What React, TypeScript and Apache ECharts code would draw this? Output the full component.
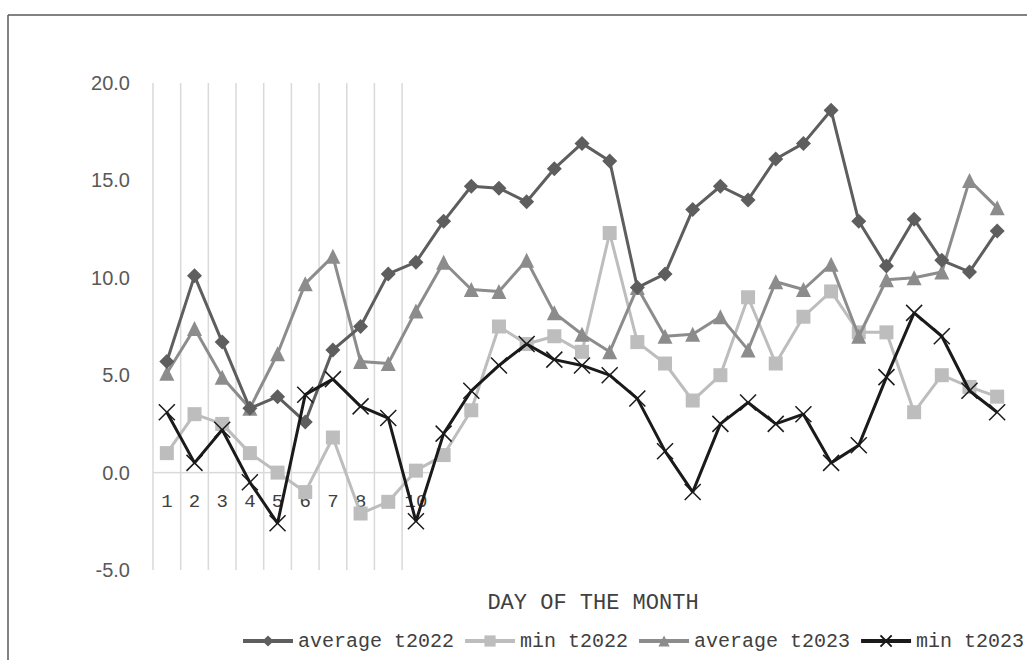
import React, { useEffect, useRef } from "react";
import * as echarts from "echarts";

const days = Array.from({ length: 31 }, (_, i) => String(i + 1));
const tickLabels = ["1", "2", "3", "4", "5", "6", "7", "8", "9", "10"];
const yTicks = [-5, 0, 5, 10, 15, 20];

const avgT2022 = [5.7, 10.1, 6.7, 3.3, 3.9, 2.6, 6.3, 7.5, 10.2, 10.8, 12.9, 14.7, 14.6, 13.9, 15.6, 16.9, 16.0, 9.5, 10.2, 13.5, 14.7, 14.0, 16.1, 16.9, 18.6, 12.9, 10.6, 13.0, 10.9, 10.3, 12.4];
const minT2022 = [1.0, 3.0, 2.5, 1.0, 0.0, -1.0, 1.8, -2.1, -1.5, 0.1, 0.9, 3.2, 7.5, 6.6, 7.0, 6.2, 12.3, 6.7, 5.6, 3.7, 5.0, 9.0, 5.6, 8.0, 9.3, 7.2, 7.2, 3.1, 5.0, 4.4, 3.9];
const avgT2023 = [5.1, 7.4, 4.9, 3.3, 6.1, 9.7, 11.1, 5.7, 5.6, 8.3, 10.8, 9.4, 9.3, 10.9, 8.2, 7.1, 6.2, 9.5, 7.0, 7.1, 8.0, 6.3, 9.8, 9.4, 10.7, 7.0, 9.9, 10.0, 10.3, 15.0, 13.6];
const minT2023 = [3.1, 0.5, 2.2, -0.5, -2.6, 4.0, 4.8, 3.4, 2.8, -2.5, 2.0, 4.2, 5.5, 6.6, 5.8, 5.5, 5.0, 3.8, 1.1, -1.0, 2.5, 3.6, 2.5, 3.0, 0.5, 1.4, 4.9, 8.2, 7.0, 4.2, 3.1];

const seriesNames = ["average t2022", "min t2022", "average t2023", "min t2023"];

const MONO = "'Liberation Mono', 'DejaVu Sans Mono', monospace";

export default function App() {
  const ref = useRef<HTMLDivElement>(null);

  useEffect(() => {
    document.body.style.margin = "0";
    if (!ref.current) return;
    const chart = echarts.init(ref.current, undefined, { renderer: "svg" });
    const yMin = yTicks[0];
    const yMax = yTicks[yTicks.length - 1];

    const option: any = {
      animation: false,
      backgroundColor: "#ffffff",
      grid: { left: 153, right: 16, top: 83, bottom: 90, containLabel: false },
      xAxis: {
        type: "category",
        data: days,
        boundaryGap: true,
        axisLine: { show: false },
        axisTick: { show: false },
        splitLine: { show: false },
        axisLabel: { show: false },
      },
      yAxis: {
        type: "value",
        min: yMin,
        max: yMax,
        interval: 5,
        axisLine: { show: false },
        axisTick: { show: false },
        splitLine: { show: false },
        axisLabel: {
          margin: 23,
          fontFamily: "'Liberation Sans', Arial, sans-serif",
          fontSize: 20,
          color: "#595959",
          formatter: (v: number) => v.toFixed(1),
        },
      },
      legend: {
        data: seriesNames,
        left: 241,
        top: 631,
        width: 790,
        padding: 0,
        itemWidth: 50,
        itemHeight: 14,
        itemGap: 9,
        lineStyle: { width: 4 },
        textStyle: { fontFamily: MONO, fontSize: 20, color: "#404040" },
      },
      graphic: [
        {
          type: "line",
          shape: { x1: 8, y1: 15, x2: 1027, y2: 15 },
          style: { stroke: "#595959", lineWidth: 1.5 },
        },
        {
          type: "line",
          shape: { x1: 8, y1: 15, x2: 8, y2: 660 },
          style: { stroke: "#595959", lineWidth: 1.5 },
        },
        {
          type: "text",
          x: 593,
          y: 603,
          style: {
            text: "DAY OF THE MONTH",
            fontFamily: MONO,
            fontSize: 22,
            fill: "#404040",
            textAlign: "center",
            textVerticalAlign: "middle",
          },
        },
      ],
      series: [
        {
          type: "custom",
          name: "grid10",
          silent: true,
          z: 1,
          data: tickLabels.map((_, i) => [i, 0]),
          encode: { x: 0, y: 1 },
          renderItem: (params: any, api: any) => {
            const xi = api.value(0);
            const top = api.coord([xi, yMax]);
            const bot = api.coord([xi, yMin]);
            const zero = api.coord([xi, 0]);
            const w = api.size([1, 0])[0];
            const left = top[0] - w / 2;
            return {
              type: "group",
              children: [
                {
                  type: "line",
                  shape: { x1: left, y1: top[1], x2: left, y2: bot[1] },
                  style: { stroke: "#d9d9d9", lineWidth: 1.5 },
                },
                {
                  type: "line",
                  shape: { x1: left, y1: zero[1], x2: left + w, y2: zero[1] },
                  style: { stroke: "#d9d9d9", lineWidth: 1.5 },
                },
                {
                  type: "text",
                  x: zero[0],
                  y: zero[1] + 29,
                  z2: 1,
                  style: {
                    text: tickLabels[params.dataIndex],
                    fontFamily: MONO,
                    fontSize: 19,
                    fill: "#404040",
                    textAlign: "center",
                    textVerticalAlign: "middle",
                  },
                },
              ],
            };
          },
        },
        {
          name: seriesNames[0],
          type: "line",
          data: avgT2022,
          z: 5,
          symbol: "diamond",
          symbolSize: 15,
          itemStyle: { color: "#5e5e5e" },
          lineStyle: { color: "#5e5e5e", width: 3 },
        },
        {
          name: seriesNames[1],
          type: "line",
          data: minT2022,
          z: 3,
          symbol: "rect",
          symbolSize: 14,
          itemStyle: { color: "#bdbdbd" },
          lineStyle: { color: "#bdbdbd", width: 3 },
        },
        {
          name: seriesNames[2],
          type: "line",
          data: avgT2023,
          z: 4,
          symbol: "triangle",
          symbolSize: 15,
          itemStyle: { color: "#8c8c8c" },
          lineStyle: { color: "#8c8c8c", width: 3 },
        },
        {
          name: seriesNames[3],
          type: "line",
          data: minT2023,
          z: 6,
          symbol: "path://M0,0L10,10M10,0L0,10",
          symbolSize: 16,
          itemStyle: { color: "#1a1a1a", borderColor: "#1a1a1a", borderWidth: 1.5 },
          lineStyle: { color: "#1a1a1a", width: 3 },
        },
      ],
    };
    chart.setOption(option);
    return () => chart.dispose();
  }, []);

  return <div ref={ref} style={{ width: 1027, height: 660 }} />;
}
